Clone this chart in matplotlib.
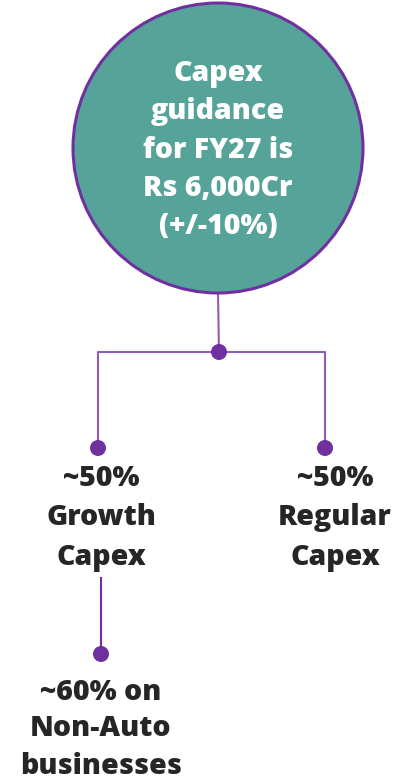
import matplotlib
matplotlib.use("Agg")
import matplotlib.pyplot as plt
from matplotlib.patches import Circle

# Content
headline = ["Capex", "guidance", "for FY27 is", "Rs 6,000Cr", "(+/-10%)"]
branch_labels = [["~50%", "Growth", "Capex"], ["~50%", "Regular", "Capex"]]
sub_label = ["~60% on", "Non-Auto", "businesses"]

TEAL = "#56A39A"
PURPLE = "#7030A0"
LINE = "#8F5DB8"
TEXT = "#262626"
FONT = ["Open Sans", "DejaVu Sans"]
FS = 20.5
WEIGHT = "heavy"

W, H = 409, 781
fig = plt.figure(figsize=(W / 100, H / 100), dpi=100)
ax = fig.add_axes([0, 0, 1, 1])
ax.set_xlim(0, W)
ax.set_ylim(H, 0)
ax.set_aspect("equal")
ax.axis("off")

# Main circle
cx, cy, r = 218, 148, 145
ax.add_patch(Circle((cx, cy), r, facecolor=TEAL, edgecolor=PURPLE, lw=2.2, zorder=2))
for i, line in enumerate(headline):
    ax.text(cx, 73 + i * 38.5, line, ha="center", va="center", color="white",
            fontsize=FS, fontweight=WEIGHT, family=FONT, zorder=3)

# Connector tree
jx, jy = 219, 352
left_x, right_x, leaf_y = 98, 325, 448
ax.plot([cx, jx], [cy + r, jy], color=LINE, lw=1.5, zorder=1)
ax.plot([left_x, left_x, right_x, right_x], [leaf_y, jy, jy, leaf_y], color=LINE, lw=1.5, zorder=1)
for (x, y) in [(jx, jy), (left_x, leaf_y), (right_x, leaf_y)]:
    ax.add_patch(Circle((x, y), 8, facecolor=PURPLE, edgecolor="none", zorder=4))

# Branch labels
for x, lines in zip([101, 335], branch_labels):
    for i, line in enumerate(lines):
        ax.text(x, 478 + i * 39.5, line, ha="center", va="center", color=TEXT,
                fontsize=FS, fontweight=WEIGHT, family=FONT)

# Sub-branch under growth capex
sx = 101
ax.plot([sx, sx], [578, 654], color=PURPLE, lw=1.5, zorder=1)
ax.add_patch(Circle((sx, 654), 8, facecolor=PURPLE, edgecolor="none", zorder=4))
for i, line in enumerate(sub_label):
    ax.text(sx, 692 + i * 37, line, ha="center", va="center", color=TEXT,
            fontsize=FS, fontweight=WEIGHT, family=FONT)

fig.savefig("out.png", dpi=100, facecolor="white")
